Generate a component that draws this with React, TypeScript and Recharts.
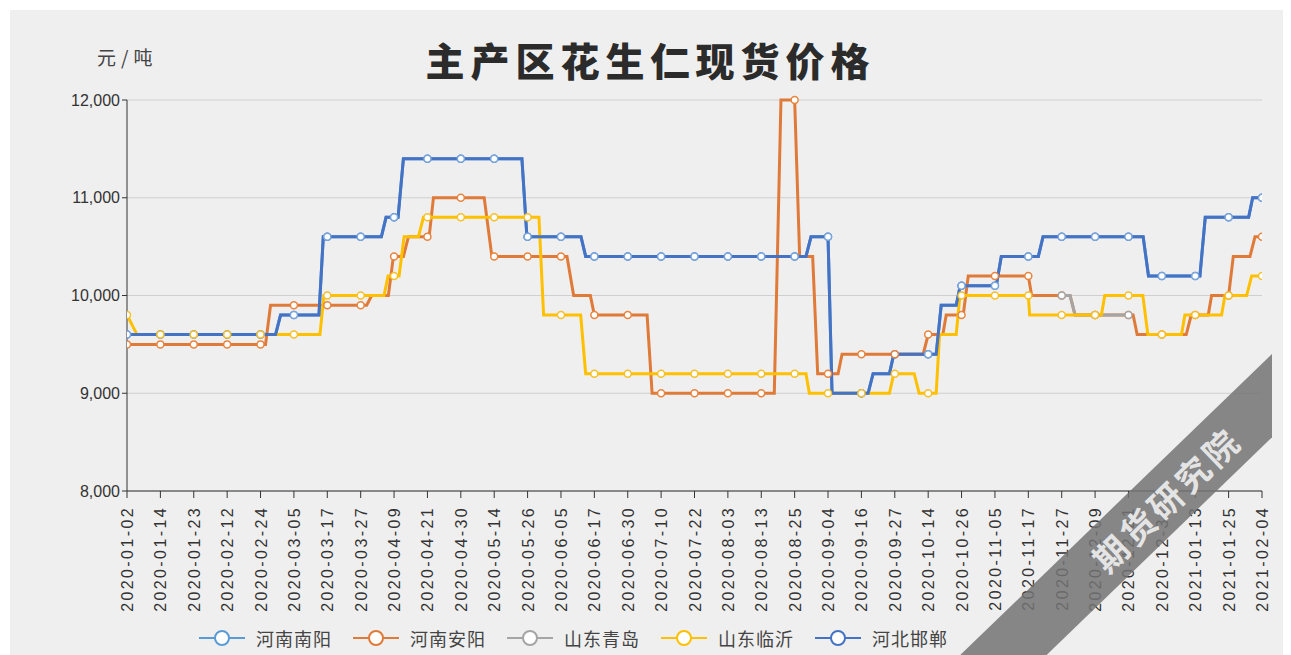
import React from "react";
import { LineChart, Line, XAxis, YAxis, CartesianGrid } from "recharts";

// 横轴标签（按标签序号定位，0 = 2020-01-02）
const dateLabels = [
  "2020-01-02", "2020-01-14", "2020-01-23", "2020-02-12", "2020-02-24", "2020-03-05",
  "2020-03-17", "2020-03-27", "2020-04-09", "2020-04-21", "2020-04-30", "2020-05-14",
  "2020-05-26", "2020-06-05", "2020-06-17", "2020-06-30", "2020-07-10", "2020-07-22",
  "2020-08-03", "2020-08-13", "2020-08-25", "2020-09-04", "2020-09-16", "2020-09-27",
  "2020-10-14", "2020-10-26", "2020-11-05", "2020-11-17", "2020-11-27", "2020-12-09",
  "2020-12-21", "2020-12-31", "2021-01-13", "2021-01-25", "2021-02-04",
];

const yTicks = [8000, 9000, 10000, 11000, 12000];

// [标签序号位置, 元/吨]
const nanyangPrices: [number, number][] = [
  [0, 9600], [1, 9600], [2, 9600], [3, 9600], [4, 9600], [4.45, 9600], [4.6, 9800], [5, 9800],
  [5.75, 9800], [5.88, 10600], [6, 10600], [7, 10600], [7.62, 10600], [7.76, 10800], [8, 10800],
  [8.12, 10800], [8.28, 11400], [9, 11400], [10, 11400], [11, 11400], [11.83, 11400], [11.98, 10600],
  [12, 10600], [13, 10600], [13.6, 10600], [13.74, 10400], [14, 10400], [15, 10400], [16, 10400],
  [17, 10400], [18, 10400], [19, 10400], [20, 10400], [20.34, 10400], [20.49, 10600], [21, 10600],
  [21.12, 9000], [22, 9000], [22.2, 9000], [22.35, 9200], [22.84, 9200], [22.97, 9400], [23, 9400],
  [24, 9400], [24.24, 9400], [24.39, 9900], [24.84, 9900], [24.96, 10100], [25, 10100], [26, 10100],
  [26.04, 10100], [26.19, 10400], [27, 10400], [27.3, 10400], [27.44, 10600], [28, 10600], [29, 10600],
  [30, 10600], [30.44, 10600], [30.6, 10200], [31, 10200], [32, 10200], [32.14, 10200], [32.3, 10800],
  [33, 10800], [33.6, 10800], [33.72, 11000], [34, 11000],
];

const anyangPrices: [number, number][] = [
  [0, 9500], [1, 9500], [2, 9500], [3, 9500], [4, 9500], [4.15, 9500], [4.3, 9900], [5, 9900],
  [6, 9900], [7, 9900], [7.18, 9900], [7.33, 10000], [7.83, 10000], [7.98, 10400], [8, 10400],
  [8.28, 10400], [8.43, 10600], [9, 10600], [9.05, 10600], [9.18, 11000], [10, 11000], [10.7, 11000],
  [10.93, 10400], [11, 10400], [12, 10400], [13, 10400], [13.18, 10400], [13.38, 10000], [13.88, 10000],
  [14, 9800], [15, 9800], [15.58, 9800], [15.73, 9000], [16, 9000], [17, 9000], [18, 9000], [19, 9000],
  [19.39, 9000], [19.59, 12000], [20, 12000], [20.15, 10400], [20.54, 10400], [20.69, 9200], [21, 9200],
  [21.3, 9200], [21.42, 9400], [22, 9400], [23, 9400], [23.85, 9400], [24, 9600], [24.44, 9600],
  [24.54, 9800], [25, 9800], [25.05, 9800], [25.2, 10200], [26, 10200], [27, 10200], [27.1, 10000],
  [28, 10000], [28.25, 10000], [28.4, 9800], [29, 9800], [30, 9800], [30.14, 9800], [30.26, 9600],
  [31, 9600], [31.73, 9600], [31.88, 9800], [32, 9800], [32.39, 9800], [32.49, 10000], [33, 10000],
  [33.14, 10400], [33.64, 10400], [33.79, 10600], [34, 10600],
];

// 大部分被其他线遮住，只在11月底至12月可见
const qingdaoPrices: [number, number][] = [
  [28, 10000], [28.25, 10000], [28.4, 9800], [29, 9800], [30, 9800],
];

const linyiPrices: [number, number][] = [
  [0, 9800], [0.3, 9600], [1, 9600], [2, 9600], [3, 9600], [4, 9600], [5, 9600], [5.78, 9600],
  [5.9, 10000], [6, 10000], [7, 10000], [7.7, 10000], [7.82, 10200], [8, 10200], [8.15, 10200],
  [8.3, 10600], [8.73, 10600], [8.88, 10800], [9, 10800], [10, 10800], [11, 10800], [12, 10800],
  [12.34, 10800], [12.48, 9800], [13, 9800], [13.59, 9800], [13.74, 9200], [14, 9200], [15, 9200],
  [16, 9200], [17, 9200], [18, 9200], [19, 9200], [20, 9200], [20.34, 9200], [20.44, 9000], [21, 9000],
  [22, 9000], [22.84, 9000], [22.97, 9200], [23, 9200], [23.58, 9200], [23.73, 9000], [24, 9000],
  [24.24, 9000], [24.34, 9600], [24.84, 9600], [24.95, 10000], [25, 10000], [26, 10000], [27, 10000],
  [27.04, 9800], [28, 9800], [29, 9800], [29.19, 9800], [29.29, 10000], [30, 10000], [30.43, 10000],
  [30.58, 9600], [31, 9600], [31.59, 9600], [31.69, 9800], [32, 9800], [32.79, 9800], [32.89, 10000],
  [33, 10000], [33.54, 10000], [33.69, 10200], [34, 10200],
];

// 图中与河南南阳重合（深蓝线压在上面）
const handanPrices: [number, number][] = nanyangPrices;

const SERIES = [
  { name: "河南南阳", data: nanyangPrices, color: "#5b9bd5", dot: "#7aa6dc" },
  { name: "河南安阳", data: anyangPrices, color: "#e07a38", dot: "#e8843f" },
  { name: "山东青岛", data: qingdaoPrices, color: "#a5a5a5", dot: "#a5a5a5" },
  { name: "山东临沂", data: linyiPrices, color: "#ffc000", dot: "#f5c02a" },
  { name: "河北邯郸", data: handanPrices, color: "#4472c4", dot: "#4472c4" },
];

// symbols sit above all lines, handan first so nanyang's markers show
const DOT_ORDER = [4, 0, 1, 2, 3];

const toPts = (arr: [number, number][]) => arr.map(([x, y]) => ({ x, y }));

const XTick = ({ x, y, payload }: any) => (
  <g transform={`translate(${x},${y})`}>
    <text
      transform="rotate(-90)"
      x={-6}
      y={0}
      dy={6}
      textAnchor="end"
      fontSize={16}
      letterSpacing={2.4}
      fill="#333"
      fontFamily="'Liberation Sans', Arial, sans-serif"
    >
      {dateLabels[payload.value]}
    </text>
  </g>
);

function LegendBar() {
  return (
    <div style={{ position: "absolute", left: 188, top: 615, display: "flex", alignItems: "center" }}>
      {SERIES.map((s) => (
        <div key={s.name} style={{ display: "flex", alignItems: "center", marginRight: 20 }}>
          <svg width={48} height={18}>
            <line x1={1} y1={9} x2={47} y2={9} stroke={s.color} strokeWidth={2} />
            <circle cx={24} cy={9} r={7} fill="#fff" stroke={s.color} strokeWidth={2} />
          </svg>
          <span
            style={{
              marginLeft: 10,
              fontSize: 18,
              letterSpacing: 1,
              color: "#444",
              fontFamily: "'Noto Sans CJK SC', sans-serif",
            }}
          >
            {s.name}
          </span>
        </div>
      ))}
    </div>
  );
}

export default function App() {
  return (
    <div
      style={{
        position: "relative",
        width: 1281,
        height: 645,
        marginTop: 2,
        marginLeft: 2,
        background: "#efefef",
        overflow: "hidden",
        fontFamily: "'Noto Sans CJK SC', sans-serif",
      }}
    >
      <div
        style={{
          position: "absolute",
          left: 0,
          right: 0,
          top: 25,
          textAlign: "center",
          fontSize: 39,
          fontWeight: 900,
          letterSpacing: 6,
          color: "#2b2b2b",
          lineHeight: "48px",
        }}
      >
        主产区花生仁现货价格
      </div>
      <div style={{ position: "absolute", left: 87, top: 33, fontSize: 19, letterSpacing: 5, color: "#444" }}>
        元/吨
      </div>

      <LineChart width={1281} height={645} margin={{ top: 90, right: 29, bottom: 34, left: 57 }}>
        <CartesianGrid horizontal vertical={false} stroke="#cfcfcf" />
        <XAxis
          type="number"
          dataKey="x"
          domain={[0, dateLabels.length - 1]}
          ticks={dateLabels.map((_, i) => i)}
          interval={0}
          allowDataOverflow
          height={130}
          stroke="#333"
          tickSize={7}
          tick={<XTick />}
        />
        <YAxis
          type="number"
          domain={[8000, 12000]}
          ticks={yTicks}
          width={60}
          stroke="#333"
          tickSize={5}
          tick={{ fill: "#333", fontSize: 16, fontFamily: "'Liberation Sans', Arial, sans-serif" }}
          tickFormatter={(v: number) => v.toLocaleString("en-US")}
        />
        {SERIES.map((s) => (
          <Line
            key={s.name}
            data={toPts(s.data)}
            dataKey="y"
            type="linear"
            stroke={s.color}
            strokeWidth={3}
            dot={false}
            activeDot={false}
            isAnimationActive={false}
          />
        ))}
        {DOT_ORDER.map((i) => {
          const s = SERIES[i];
          return (
            <Line
              key={s.name + "-dots"}
              data={toPts(s.data.filter(([x]) => Number.isInteger(x)))}
              dataKey="y"
              stroke="none"
              dot={{ r: 3.5, fill: "#fff", stroke: s.dot, strokeWidth: 1.5 }}
              activeDot={false}
              isAnimationActive={false}
            />
          );
        })}
      </LineChart>

      <LegendBar />

      {/* watermark band */}
      <div style={{ position: "absolute", left: 0, top: 0, width: 1262, height: 645, overflow: "hidden", pointerEvents: "none" }}>
        <div
          style={{
            position: "absolute",
            left: 1127 - 330,
            top: 516 - 30,
            width: 660,
            height: 60,
            background: "rgba(115,115,115,0.85)",
            transform: "rotate(-44deg)",
            display: "flex",
            alignItems: "center",
            justifyContent: "center",
            color: "rgba(235,235,235,0.95)",
            fontSize: 34,
            fontWeight: 700,
            letterSpacing: 4,
          }}
        >
          <span style={{ marginLeft: 80 }}>期货研究院</span>
        </div>
      </div>
    </div>
  );
}
